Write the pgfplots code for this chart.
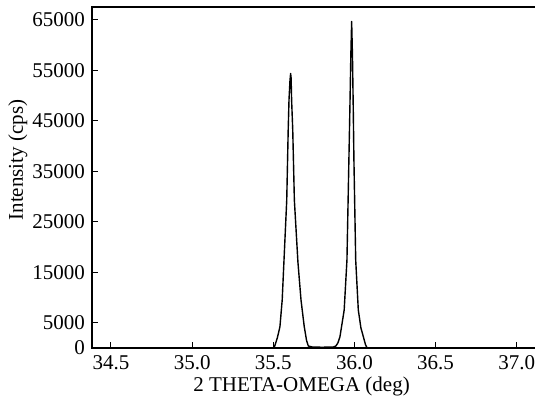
\documentclass[border=0pt]{standalone}
\usepackage{pgfplots}
\pgfplotsset{compat=1.18}
\usepackage{fontspec}
\setmainfont{Liberation Serif}
\pgfplotstableread{
x y
35.505 0
35.512 700
35.525 2000
35.541 4200
35.555 9500
35.567 18000
35.583 29300
35.592 43200
35.597 49200
35.603 53000
35.607 54400
35.610 53500
35.613 49200
35.620 43200
35.630 29300
35.652 17000
35.671 9500
35.691 4200
35.705 1500
35.716 400
35.740 200
35.800 150
35.870 200
35.886 400
35.898 1000
35.911 2240
35.937 7530
35.954 17400
35.966 37260
35.972 47200
35.978 58000
35.983 64700
35.988 58000
35.993 47200
35.997 37260
36.008 17400
36.024 7530
36.040 4000
36.055 2240
36.068 700
36.078 0
}\datatab
\begin{document}
\fontsize{21}{25}\selectfont
\begin{tikzpicture}
\begin{axis}[name=ax, scale only axis, width=444pt, height=341pt,
  xmin=34.383, xmax=37.119, ymin=0, ymax=67576,
  axis line style={line width=1.2pt},
  xtick={34.5,35,35.5,36,36.5,37},
  ytick={0,5000,15000,25000,35000,45000,55000,65000},
  xtick pos=bottom, ytick pos=left, tick align=inside,
  major tick length=6pt, tick style={line width=1pt, black},
  /pgf/number format/assume math mode=true,
  scaled y ticks=false, scaled x ticks=false,
  yticklabel style={/pgf/number format/fixed, /pgf/number format/set thousands separator={}},
  xticklabel style={/pgf/number format/fixed, /pgf/number format/fixed zerofill, /pgf/number format/precision=1},
  xlabel={2 THETA-OMEGA (deg)}, ylabel={Intensity (cps)},
  xlabel style={at={(axis description cs:0.472,-0.128)}, anchor=base},
  ylabel style={at={(axis description cs:-0.167,0.551)}, anchor=center},
]
\addplot[black, line width=1.4pt, mark=none, line join=round] table[x=x,y=y] {\datatab};
\end{axis}
\pgfresetboundingbox
\path ([xshift=-92pt,yshift=-52pt]ax.south west) rectangle ([xshift=-1pt,yshift=7pt]ax.north east);
\end{tikzpicture}
\end{document}
